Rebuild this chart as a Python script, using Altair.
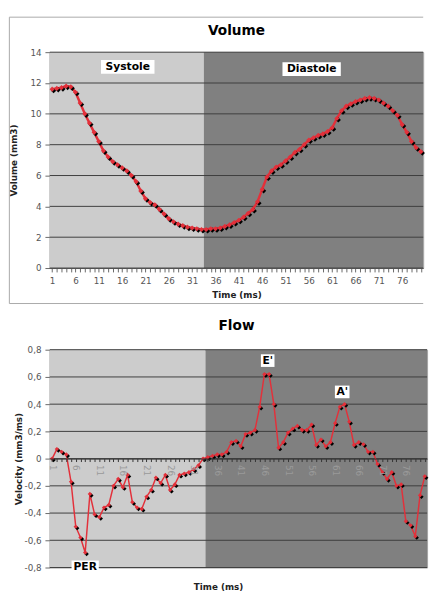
import altair as alt
import pandas as pd

# ---------------- data ----------------
time_ms = list(range(1, 81))

volume_mm3 = [11.6, 11.65, 11.7, 11.8, 11.75, 11.4, 10.7, 10.0, 9.4, 8.8,
              8.2, 7.6, 7.2, 6.9, 6.7, 6.5, 6.3, 6.0, 5.6, 5.0,
              4.5, 4.25, 4.1, 3.8, 3.5, 3.2, 3.0, 2.85, 2.75, 2.65,
              2.6, 2.55, 2.5, 2.5, 2.55, 2.55, 2.6, 2.7, 2.8, 2.95,
              3.1, 3.3, 3.55, 3.8, 4.3, 5.1, 5.9, 6.3, 6.55, 6.7,
              6.95, 7.2, 7.5, 7.7, 8.0, 8.3, 8.45, 8.6, 8.7, 8.85,
              9.1, 9.7, 10.2, 10.5, 10.65, 10.8, 10.9, 11.0, 11.05, 11.0,
              10.9, 10.7, 10.5, 10.2, 9.9, 9.3, 8.8, 8.2, 7.8, 7.55]

flow_vel = [0.00, 0.07, 0.05, 0.03, -0.17, -0.50, -0.58, -0.69, -0.26, -0.41,
            -0.43, -0.36, -0.34, -0.20, -0.15, -0.21, -0.12, -0.32, -0.36, -0.37,
            -0.28, -0.23, -0.14, -0.18, -0.12, -0.23, -0.19, -0.12, -0.11, -0.10,
            -0.08, -0.05, 0.00, 0.01, 0.02, 0.03, 0.03, 0.05, 0.12, 0.13,
            0.09, 0.18, 0.19, 0.21, 0.38, 0.62, 0.62, 0.40, 0.08, 0.12,
            0.19, 0.22, 0.24, 0.21, 0.21, 0.25, 0.10, 0.14, 0.09, 0.12,
            0.26, 0.38, 0.40, 0.27, 0.10, 0.12, 0.105, 0.05, 0.05, -0.04,
            -0.10, -0.15, -0.10, -0.20, -0.19, -0.46, -0.49, -0.57, -0.27, -0.13]

phase_names = ["Systole", "Diastole"]
phase_start = [0.5, 33.5]
phase_end = [33.5, 80.5]
phase_label_t = [17.2, 56.6]
phase_label_v = [13.05, 12.9]

peak_names = ["E'", "A'", "PER"]
peak_t = [46.7, 62.5, 8.0]
peak_v = [0.72, 0.49, -0.795]

vol_ticks = [0, 2, 4, 6, 8, 10, 12, 14]
flow_ticks = [-0.8, -0.6, -0.4, -0.2, 0.0, 0.2, 0.4, 0.6, 0.8]

chart_titles = ["Volume", "Flow"]

# ---------------- styles ----------------
RED = "#e3303a"
LIGHT = "#cccccc"
DARK = "#808080"
GRID = "#3c3c3c"
AXIS = "#666666"
FONT = "DejaVu Sans"

W1, H1 = 384, 222
W2, H2 = 388, 224

vol_df = pd.DataFrame({"t": time_ms, "v": volume_mm3})
flow_df = pd.DataFrame({"t": time_ms, "v": flow_vel})
phase_df = pd.DataFrame({"phase": phase_names, "start": phase_start,
                         "end": phase_end, "fill": [LIGHT, DARK]})
phase_lbl_df = pd.DataFrame({"text": phase_names, "lx": phase_label_t, "ly": phase_label_v})
peak_df = pd.DataFrame({"text": peak_names, "lx": peak_t, "ly": peak_v})
one = pd.DataFrame({"k": [0]})

x_scale = alt.Scale(domain=[0.5, 80.5], nice=False, zero=False)
label_expr = "(datum.value - 1) % 5 == 0 ? datum.label : ''"

x_axis_top = alt.Axis(values=time_ms, labelExpr=label_expr, labelOverlap=False,
                      tickSize=4, tickColor=AXIS, domainColor=AXIS, grid=False,
                      labelFont=FONT, labelFontSize=9, labelColor="#555555",
                      labelPadding=5, title="Time (ms)", titleFont=FONT,
                      titleFontSize=9, titleFontWeight="bold", titleColor="#222222",
                      titlePadding=5)
y_scale_vol = alt.Scale(domain=[0, 14], nice=False, zero=False)
y_axis_vol = alt.Axis(values=vol_ticks, grid=False, tickSize=5, tickColor=AXIS,
                      domainColor=AXIS, labelFont=FONT, labelFontSize=9,
                      labelColor="#555555", labelPadding=4, title="Volume (mm3)",
                      titleFont=FONT, titleFontSize=9, titleFontWeight="bold",
                      titleColor="#222222", titlePadding=12)

flow_label = ("datum.value == 0 ? '0' : (datum.value < 0 ? '-' : '') + "
              "replace(format(abs(datum.value), '.1f'), '.', ',')")
x_axis_flow = alt.Axis(values=time_ms, labelExpr=label_expr, labelOverlap=False,
                       offset=-H2 / 2, zindex=1, tickSize=3, tickColor="#333333",
                       domainColor="#333333", grid=False, labelAngle=90,
                       labelAlign="left", labelBaseline="middle", labelPadding=3,
                       labelFont=FONT, labelFontSize=9, labelColor="#9a9a9a",
                       title="Time (ms)", titleFont=FONT, titleFontSize=9,
                       titleFontWeight="bold", titleColor="#222222",
                       titleX=173, titleY=132, titleBaseline="middle",
                       titleAlign="center")
y_scale_flow = alt.Scale(domain=[-0.8, 0.8], nice=False, zero=False)
y_axis_flow = alt.Axis(values=flow_ticks, grid=False, tickSize=5, tickColor=AXIS,
                       domainColor=AXIS, labelExpr=flow_label, labelFont=FONT,
                       labelFontSize=9, labelColor="#555555", labelPadding=4,
                       title="Velocity (mm3/ms)", titleFont=FONT, titleFontSize=9,
                       titleFontWeight="bold", titleColor="#222222", titlePadding=1)


def panel(df, ticks, x_axis, y_scale, y_axis, w, h, line_w, pt_size):
    xe = lambda f: alt.X(f, scale=x_scale, axis=x_axis)
    ye = lambda f: alt.Y(f, scale=y_scale, axis=y_axis)
    bands = alt.Chart(phase_df).mark_rect().encode(
        x=xe("start:Q"), x2="end:Q", y=alt.value(0), y2=alt.value(h),
        color=alt.Color("fill:N", scale=None))
    grid = alt.Chart(pd.DataFrame({"g": ticks})).mark_rule(
        color=GRID, strokeWidth=1).encode(y=ye("g:Q"))
    line = alt.Chart(df).mark_line(color=RED, strokeWidth=line_w).encode(
        x=xe("t:Q"), y=ye("v:Q"))
    shadow = alt.Chart(df).mark_point(shape="diamond", filled=True, color="black",
                                      size=pt_size, opacity=1, xOffset=1.5,
                                      yOffset=1.5).encode(x=xe("t:Q"), y=ye("v:Q"))
    pts = alt.Chart(df).mark_point(shape="diamond", filled=True, color=RED,
                                   size=pt_size, opacity=1).encode(
        x=xe("t:Q"), y=ye("v:Q"))
    return [bands, grid, line, shadow, pts], xe, ye


def label_layers(df, name, w, h, xe, ye):
    box = alt.Chart(df).transform_filter(alt.datum.text == name).mark_rect(
        color="white", width=w, height=h).encode(x=xe("lx:Q"), y=ye("ly:Q"))
    txt = alt.Chart(df).transform_filter(alt.datum.text == name).mark_text(
        font=FONT, fontSize=11, fontWeight="bold", color="black",
        baseline="middle", align="center").encode(
        x=xe("lx:Q"), y=ye("ly:Q"), text="text:N")
    return [box, txt]


def title_text(label, xc, yc):
    return alt.Chart(one).mark_text(
        text=label, font=FONT, fontSize=14, fontWeight="bold", color="black",
        align="center", baseline="middle").encode(x=alt.value(xc), y=alt.value(yc))


layers1, xe1, ye1 = panel(vol_df, vol_ticks, x_axis_top, y_scale_vol, y_axis_vol,
                          W1, H1, 2.5, 28)
layers1 += label_layers(phase_lbl_df, "Systole", 55, 14, xe1, ye1)
layers1 += label_layers(phase_lbl_df, "Diastole", 60, 14, xe1, ye1)
frame_c = "#a8a8a8"
layers1 += [
    alt.Chart(one).mark_rule(color=frame_c).encode(
        x=alt.value(-41.6), x2=alt.value(W1), y=alt.value(-36)),
    alt.Chart(one).mark_rule(color=frame_c).encode(
        x=alt.value(-41.6), x2=alt.value(W1), y=alt.value(258.5)),
    alt.Chart(one).mark_rule(color=frame_c).encode(
        x=alt.value(-41.6), y=alt.value(-36), y2=alt.value(258.5)),
    title_text(chart_titles[0], W1 / 2, -22),
]
top = alt.layer(*layers1).properties(width=W1, height=H1)

layers2, xe2, ye2 = panel(flow_df, flow_ticks, x_axis_flow, y_scale_flow, y_axis_flow,
                          W2, H2, 1.5, 20)
layers2 += label_layers(peak_df, "E'", 14, 13, xe2, ye2)
layers2 += label_layers(peak_df, "A'", 15, 13, xe2, ye2)
layers2 += label_layers(peak_df, "PER", 28, 13, xe2, ye2)
layers2 += [title_text(chart_titles[1], W2 / 2 - 2, -24.5)]
bottom = alt.layer(*layers2).properties(width=W2, height=H2)

chart = alt.vconcat(top, bottom, spacing=14).properties(
    padding={"left": 0, "top": 0, "right": 0, "bottom": 0},
    background="white",
).configure_view(stroke="#a0a0a0", strokeWidth=1)

chart.save("out.html", embed_options={"renderer": "svg", "actions": False})
